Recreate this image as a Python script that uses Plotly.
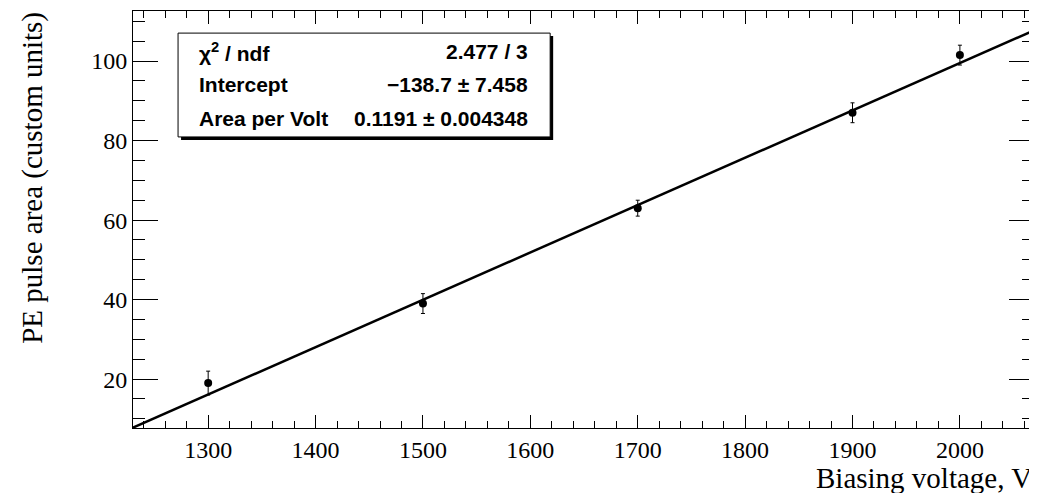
import plotly.graph_objects as go

voltage = [1300, 1500, 1700, 1900, 2000]
area = [19.0, 39.0, 63.0, 87.0, 101.5]
area_err = [3.0, 2.5, 2.0, 2.5, 2.5]

fit_intercept = -138.7
fit_slope = 0.1191
fit_x = [1230, 2069]
fit_y = [fit_intercept + fit_slope * v for v in fit_x]

stats_labels = ["χ<sup>2</sup> / ndf", "Intercept", "Area per Volt"]
stats_values = ["2.477 / 3", "−138.7 ± 7.458", "0.1191 ± 0.004348"]

fig = go.Figure()
fig.add_trace(go.Scatter(x=fit_x, y=fit_y, mode="lines",
                         line=dict(color="black", width=2.5), showlegend=False))
fig.add_trace(go.Scatter(x=voltage, y=area, mode="markers",
                         marker=dict(color="black", size=8),
                         error_y=dict(type="data", array=area_err, color="black",
                                      thickness=1, width=2),
                         showlegend=False))

serif = "Liberation Serif, Times New Roman, serif"
sans = "Liberation Sans, Arial, sans-serif"

fig.update_xaxes(range=[1230, 2069], showgrid=False, zeroline=False,
                 showline=True, linecolor="black", linewidth=1, mirror="allticks",
                 ticks="inside", ticklen=13, tickcolor="black", dtick=100, tick0=1300,
                 tickfont=dict(family=serif, size=24, color="black"),
                 minor=dict(ticks="inside", ticklen=7, dtick=20, tick0=1300,
                            tickcolor="black", showgrid=False))
fig.update_yaxes(range=[7.7, 112.6], showgrid=False, zeroline=False,
                 showline=True, linecolor="black", linewidth=1, mirror="allticks",
                 ticks="inside", ticklen=25, tickcolor="black", dtick=20, tick0=0,
                 tickfont=dict(family=serif, size=24, color="black"),
                 minor=dict(ticks="inside", ticklen=12, dtick=5, tick0=0,
                            tickcolor="black", showgrid=False))

# stats box with shadow
bx0, bx1, by0, by1 = 0.05, 0.463, 0.698, 0.947
dx, dy = 3 / 901, 3 / 417
shapes = [
    dict(type="rect", xref="paper", yref="paper", x0=bx0 + dx, x1=bx1 + dx,
         y0=by0 - dy, y1=by1 - dy, fillcolor="black", line=dict(width=0)),
    dict(type="rect", xref="paper", yref="paper", x0=bx0, x1=bx1, y0=by0, y1=by1,
         fillcolor="white", line=dict(color="black", width=1)),
]
annotations = []
row_y = [0.902, 0.823, 0.743]
for lab, val, yy in zip(stats_labels, stats_values, row_y):
    annotations.append(dict(text=f"<b>{lab}</b>", xref="paper", yref="paper",
                            x=0.071, y=yy, xanchor="left", yanchor="middle",
                            showarrow=False, font=dict(family=sans, size=21, color="black")))
    annotations.append(dict(text=f"<b>{val}</b>", xref="paper", yref="paper",
                            x=0.4406, y=yy, xanchor="right", yanchor="middle",
                            showarrow=False, font=dict(family=sans, size=21, color="black")))

annotations.append(dict(text="PE pulse area (custom units)", xref="paper", yref="paper",
                        x=-0.111, y=0.6, xanchor="center", yanchor="middle", textangle=-90,
                        showarrow=False, font=dict(family=serif, size=29, color="black")))
annotations.append(dict(text="Biasing voltage, V", xref="paper", yref="paper",
                        x=1.0, y=-0.121, xanchor="right", yanchor="middle",
                        showarrow=False, font=dict(family=serif, size=29, color="black")))

# page body has an 8px margin: size the figure so it fits the 1037x493 window
fig.update_layout(width=1029, height=485, margin=dict(l=125, r=3, t=3, b=65),
                  plot_bgcolor="white", paper_bgcolor="white",
                  shapes=shapes, annotations=annotations)

fig.write_html("out.html")
